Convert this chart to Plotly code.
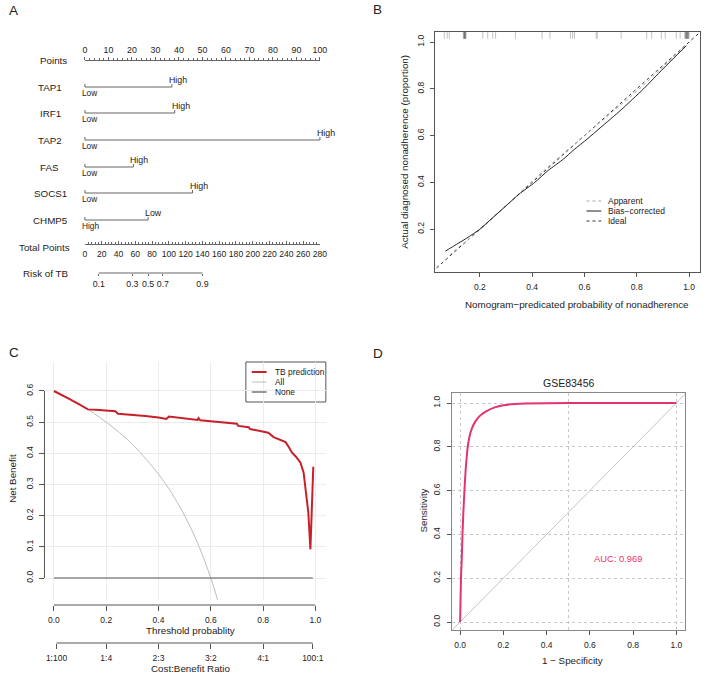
import plotly.graph_objects as go

W, H = 709, 674
FONT = "Liberation Sans, Arial, Helvetica, sans-serif"
TXT = "#222222"
AX = "#555555"


def fx(p):
    return p / W


def fy(p):
    return 1 - p / H


# ---------------- Panel A: nomogram data ----------------
points_ticks = list(range(0, 101, 10))
variables = ["TAP1", "IRF1", "TAP2", "FAS", "SOCS1", "CHMP5"]
variable_points = [37.0, 38.2, 100.0, 20.6, 45.8, 26.9]
label_at_zero = ["Low", "Low", "Low", "Low", "Low", "High"]
label_at_end = ["High", "High", "High", "High", "High", "Low"]
total_points_ticks = list(range(0, 281, 20))
risk_labels = ["0.1", "0.3", "0.5", "0.7", "0.9"]
risk_total_points = [16.5, 56.5, 75.3, 92.9, 140.0]

# ---------------- Panel B: calibration data ----------------
bias_pred = [0.068, 0.1, 0.15, 0.2, 0.25, 0.3, 0.35, 0.41, 0.46, 0.52, 0.56, 0.61, 0.66, 0.74, 0.826, 0.9, 0.99]
bias_obs = [0.106, 0.128, 0.162, 0.2, 0.25, 0.3, 0.35, 0.40, 0.45, 0.50, 0.54, 0.585, 0.633, 0.71, 0.80, 0.885, 0.985]
apparent_pred = [0.068, 0.1, 0.2, 0.3, 0.4, 0.5, 0.6, 0.7, 0.8, 0.9, 0.99]
apparent_obs = [0.07, 0.105, 0.197, 0.3, 0.405, 0.505, 0.6, 0.695, 0.79, 0.893, 0.99]
ideal_line = [0.0, 1.05]
rug_pred = [0.064, 0.075, 0.083, 0.137, 0.139, 0.14, 0.141, 0.142, 0.143, 0.144, 0.145, 0.147,
            0.211, 0.23, 0.249, 0.26, 0.336, 0.438, 0.468, 0.547, 0.555, 0.562, 0.645, 0.649,
            0.74, 0.838, 0.857, 0.894, 0.909, 0.951, 0.966, 0.984, 0.986, 0.988, 0.989, 0.99,
            0.991, 0.992, 0.994, 0.995, 0.996, 0.998, 1.0]
b_ticks = [0.2, 0.4, 0.6, 0.8, 1.0]

# ---------------- Panel C: decision curve data ----------------
tb_threshold = [0.0, 0.03, 0.06, 0.09, 0.13, 0.16, 0.2, 0.235, 0.245, 0.3, 0.35, 0.4, 0.43, 0.44,
                0.45, 0.5, 0.55, 0.553, 0.56, 0.6, 0.65, 0.7, 0.705, 0.745, 0.75, 0.8, 0.82, 0.84,
                0.86, 0.886, 0.9, 0.91, 0.925, 0.943, 0.955, 0.965, 0.973, 0.981, 0.992]
tb_net_benefit = [0.60, 0.588, 0.574, 0.560, 0.541, 0.540, 0.537, 0.535, 0.527, 0.524, 0.520, 0.515,
                  0.510, 0.518, 0.517, 0.513, 0.507, 0.513, 0.506, 0.503, 0.499, 0.495, 0.488, 0.484,
                  0.478, 0.471, 0.466, 0.452, 0.446, 0.436, 0.418, 0.403, 0.39, 0.37, 0.338, 0.27,
                  0.21, 0.092, 0.357]
all_threshold = [0.0, 0.1, 0.2, 0.3, 0.4, 0.45, 0.5, 0.55, 0.6, 0.63]
all_net_benefit = [0.6, 0.556, 0.5, 0.429, 0.333, 0.273, 0.2, 0.111, 0.0, -0.081]
none_threshold = [0.0, 0.99]
none_net_benefit = [0.0, 0.0]
c_x_ticks = [0.0, 0.2, 0.4, 0.6, 0.8, 1.0]
c_y_ticks = [0.0, 0.1, 0.2, 0.3, 0.4, 0.5, 0.6]
cost_benefit_pos = [0.01, 0.2, 0.4, 0.6, 0.8, 0.99]
cost_benefit_labels = ["1:100", "1:4", "2:3", "3:2", "4:1", "100:1"]

# ---------------- Panel D: ROC data ----------------
roc_fpr = [0.0, 0.002, 0.004, 0.008, 0.011, 0.015, 0.020, 0.026, 0.033, 0.042, 0.055, 0.070,
           0.09, 0.12, 0.16, 0.2, 0.3, 0.5, 1.0]
roc_tpr = [0.0, 0.1, 0.2, 0.3, 0.4, 0.5, 0.6, 0.7, 0.78, 0.84, 0.885, 0.915, 0.94, 0.962,
           0.98, 0.99, 0.998, 1.0, 1.0]
diag_line = [-0.1, 1.1]
d_ticks = [0.0, 0.2, 0.4, 0.6, 0.8, 1.0]
auc_text = "AUC: 0.969"

RED = "#C8202A"
ROC_COL = "#E5336C"

fig = go.Figure()

# ---- Panel A traces ----
row_points = 60
row_vars = [87, 113, 140, 167, 193, 220]
row_total = 244
row_risk = 273

fig.add_trace(go.Scatter(x=[0, 100], y=[row_points, row_points], xaxis="x", yaxis="y",
                         mode="lines", line=dict(width=0), hoverinfo="skip", showlegend=False))
for v, r in zip(variable_points, row_vars):
    fig.add_trace(go.Scatter(x=[0, 0, v, v], y=[r - 3, r, r, r - 3], xaxis="x8", yaxis="y",
                             mode="lines", line=dict(color="#666666", width=1),
                             hoverinfo="skip", showlegend=False))
fig.add_trace(go.Scatter(x=[0, 280], y=[row_total, row_total], xaxis="x6", yaxis="y",
                         mode="lines", line=dict(width=0), hoverinfo="skip", showlegend=False))
fig.add_trace(go.Scatter(x=[risk_total_points[0], risk_total_points[-1]], y=[row_risk, row_risk],
                         xaxis="x7", yaxis="y", mode="lines", line=dict(color="#666666", width=1),
                         hoverinfo="skip", showlegend=False))

# ---- Panel B traces ----
fig.add_trace(go.Scatter(x=ideal_line, y=ideal_line, xaxis="x2", yaxis="y2", mode="lines",
                         line=dict(color="#333333", width=1, dash="3px,3px"), showlegend=False))
fig.add_trace(go.Scatter(x=apparent_pred, y=apparent_obs, xaxis="x2", yaxis="y2", mode="lines",
                         line=dict(color="#a8a8a8", width=1, dash="dot", shape="spline"), showlegend=False))
fig.add_trace(go.Scatter(x=bias_pred, y=bias_obs, xaxis="x2", yaxis="y2", mode="lines",
                         line=dict(color="#222222", width=1, shape="spline", smoothing=0.6), showlegend=False))
fig.add_trace(go.Scatter(x=rug_pred, y=[1.032] * len(rug_pred), xaxis="x2", yaxis="y2", mode="markers",
                         marker=dict(symbol="line-ns", size=6,
                                     line=dict(width=1, color="rgba(80,80,80,0.35)")),
                         showlegend=False, hoverinfo="skip"))

# ---- Panel C traces ----
fig.add_trace(go.Scatter(x=all_threshold, y=all_net_benefit, xaxis="x3", yaxis="y3", mode="lines",
                         line=dict(color="#bdbdbd", width=1, shape="spline"), showlegend=False))
fig.add_trace(go.Scatter(x=none_threshold, y=none_net_benefit, xaxis="x3", yaxis="y3", mode="lines",
                         line=dict(color="#555555", width=1.2), showlegend=False))
fig.add_trace(go.Scatter(x=tb_threshold, y=tb_net_benefit, xaxis="x3", yaxis="y3", mode="lines",
                         line=dict(color=RED, width=2), showlegend=False))
fig.add_trace(go.Scatter(x=[0.01, 0.99], y=[0, 0], xaxis="x5", yaxis="y3", mode="lines",
                         line=dict(width=0), hoverinfo="skip", showlegend=False))

# ---- Panel D traces ----
fig.add_trace(go.Scatter(x=diag_line, y=diag_line, xaxis="x4", yaxis="y4", mode="lines",
                         line=dict(color="#c4c4c4", width=1), showlegend=False))
fig.add_trace(go.Scatter(x=roc_fpr, y=roc_tpr, xaxis="x4", yaxis="y4", mode="lines",
                         line=dict(color=ROC_COL, width=2, shape="spline", smoothing=0.3),
                         showlegend=False))

TICK_SIZE = 8.5
tickfont = dict(family=FONT, size=TICK_SIZE, color=TXT)

# nomogram x extent
nx0, nx1 = 84, 322
ppp = (nx1 - nx0) / 100.0

layout = dict(
    width=W, height=H, margin=dict(l=0, r=0, t=0, b=0),
    paper_bgcolor="white", plot_bgcolor="rgba(0,0,0,0)",
    font=dict(family=FONT, color=TXT),
    showlegend=False,
    # nomogram Points axis
    xaxis=dict(domain=[fx(nx0), fx(nx1)], range=[0, 100], anchor="free", position=fy(row_points),
               side="top", tickvals=points_ticks, ticks="outside", ticklen=3, tickcolor="#666",
               minor=dict(dtick=2, ticks="outside", ticklen=2, tickcolor="#666"),
               showline=True, linecolor="#666", linewidth=1, showgrid=False, zeroline=False,
               tickangle=0, tickfont=dict(family=FONT, size=8.8, color=TXT), fixedrange=True),
    yaxis=dict(domain=[0, 1], range=[H, 0], visible=False, fixedrange=True),
    xaxis8=dict(domain=[fx(nx0 - ppp), fx(nx1 + ppp)], range=[-1, 101], anchor="y", visible=False),
    xaxis6=dict(overlaying="x", range=[0, 280], anchor="free", position=fy(row_total), side="bottom",
                tickvals=total_points_ticks, ticks="inside", ticklen=3, tickcolor="#666",
                minor=dict(dtick=4, ticks="inside", ticklen=2, tickcolor="#666"),
                showline=True, linecolor="#666", linewidth=1, showgrid=False, zeroline=False,
                tickangle=0, ticklabelstandoff=2,
                tickfont=dict(family=FONT, size=8.6, color=TXT)),
    xaxis7=dict(overlaying="x", range=[0, 280], anchor="free", position=fy(row_risk), side="bottom",
                tickvals=risk_total_points, ticktext=risk_labels, ticks="outside", ticklen=2,
                tickcolor="#666", showline=False, showgrid=False, zeroline=False, tickangle=0,
                tickfont=dict(family=FONT, size=8.8, color=TXT)),
    # Panel B
    xaxis2=dict(domain=[fx(439), fx(707)], range=[0.03, 1.042], anchor="y2",
                tickvals=b_ticks, tickformat=".1f", ticks="outside", ticklen=4, tickcolor=AX,
                showline=True, mirror=True, linecolor=AX, linewidth=1, showgrid=False, zeroline=False,
                tickangle=0, ticklabelstandoff=3, tickfont=tickfont),
    yaxis2=dict(domain=[fy(272), fy(32)], range=[0.017, 1.043], anchor="x2",
                tickvals=b_ticks, tickformat=".1f", ticks="outside", ticklen=4, tickcolor=AX,
                tickangle=-90, showline=True, mirror=True, linecolor=AX, linewidth=1,
                showgrid=False, zeroline=False, ticklabelstandoff=3, tickfont=tickfont),
    # Panel C
    xaxis3=dict(domain=[fx(42), fx(328)], range=[-0.04, 1.04], anchor="free", position=fy(605),
                tickvals=c_x_ticks, tickformat=".1f", ticks="outside", ticklen=5, tickcolor=AX,
                showline=False, showgrid=True, gridcolor="#ececec", gridwidth=1, zeroline=False,
                tickangle=0, ticklabelstandoff=2, tickfont=tickfont),
    yaxis3=dict(domain=[fy(600), fy(362)], range=[-0.0706, 0.693], anchor="free", position=fx(43),
                tickvals=c_y_ticks, tickformat=".1f", ticks="outside", ticklen=5, tickcolor=AX,
                tickangle=-90, showline=False, showgrid=True, gridcolor="#ececec", gridwidth=1,
                zeroline=False, ticklabelstandoff=3, tickfont=tickfont),
    xaxis5=dict(overlaying="x3", range=[-0.04, 1.04], anchor="free", position=fy(643), side="bottom",
                tickvals=cost_benefit_pos, ticktext=cost_benefit_labels, ticks="outside", ticklen=5,
                tickcolor=AX, showline=False, showgrid=False, zeroline=False, tickangle=0,
                ticklabelstandoff=2, tickfont=tickfont),
    # Panel D
    xaxis4=dict(domain=[fx(456), fx(692)], range=[-0.0365, 1.041], anchor="y4",
                tickvals=d_ticks, tickformat=".1f", ticks="outside", ticklen=4, tickcolor=AX,
                showline=True, mirror=True, linecolor="#888", linewidth=1.2, showgrid=False,
                zeroline=False, tickangle=0, ticklabelstandoff=3, tickfont=tickfont,
                minor=dict(tickvals=[0.0, 0.5, 1.0], ticks="", showgrid=True, gridcolor="#c8c8c8",
                           griddash="dot", gridwidth=1)),
    yaxis4=dict(domain=[fy(630), fy(393)], range=[-0.0365, 1.0457], anchor="x4",
                tickvals=d_ticks, tickformat=".1f", ticks="outside", ticklen=4, tickcolor=AX,
                tickangle=-90, showline=True, mirror=True, linecolor="#888", linewidth=1.2,
                showgrid=True, gridcolor="#c8c8c8", griddash="dot", gridwidth=1, zeroline=False,
                ticklabelstandoff=4, tickfont=tickfont),
)

annotations = []
shapes = []


def ann(text, x, y, size=9.7, xanchor="center", yanchor="middle", xref="paper", yref="paper",
        color=TXT, angle=0, xshift=0):
    annotations.append(dict(text=text, x=x, y=y, xref=xref, yref=yref, showarrow=False,
                            xanchor=xanchor, yanchor=yanchor, textangle=angle, xshift=xshift,
                            borderpad=0,
                            font=dict(family=FONT, size=size, color=color)))


TITLE = 9.8

# panel letters
ann("A", fx(12), fy(11), size=13.5)
ann("B", fx(380), fy(10), size=13.5)
ann("C", fx(12), fy(352), size=13.5)
ann("D", fx(381), fy(353), size=13.5)

# nomogram row labels
row_labels = ["Points"] + variables + ["Total Points", "Risk of TB"]
row_label_y = [row_points] + row_vars + [row_total + 3, row_risk]
row_label_cx = [52, 49, 49, 49, 48, 49, 49, 43, 44]
for t, yy, cx in zip(row_labels, row_label_y, row_label_cx):
    ann(t, fx(cx), yy, size=TITLE, yref="y")

for v, r, lo, hi in zip(variable_points, row_vars, label_at_zero, label_at_end):
    ann(lo, 0, r + 6, size=8.3, xanchor="left", xref="x8", yref="y", xshift=-4)
    ann(hi, v, r - 7, size=8.8, xanchor="left", xref="x8", yref="y", xshift=-4)

# Panel B titles & legend
ann("Actual diagnosed nonadherence (proportion)", fx(407), fy(152), size=TITLE, angle=-90)
ann("Nomogram\u2212predicated probability of nonadherence", fx(582), fy(304), size=TITLE)
b_legend = [("Apparent", dict(color="#a8a8a8", width=1, dash="dot"), 201),
            ("Bias\u2212corrected", dict(color="#222", width=1), 211),
            ("Ideal", dict(color="#333", width=1, dash="3px,3px"), 221)]
for name, ln, yy in b_legend:
    shapes.append(dict(type="line", xref="paper", yref="paper", x0=fx(592), x1=fx(607),
                       y0=fy(yy), y1=fy(yy), line=ln))
    ann(name, fx(613), fy(yy), size=8.5, xanchor="left")

# Panel C axis lines, titles, legend
shapes.append(dict(type="line", xref="x3", yref="paper", x0=0, x1=1, y0=fy(605), y1=fy(605),
                   line=dict(color=AX, width=1)))
shapes.append(dict(type="line", xref="paper", yref="y3", x0=fx(43), x1=fx(43), y0=0, y1=0.6,
                   line=dict(color=AX, width=1)))
shapes.append(dict(type="line", xref="x3", yref="paper", x0=0.01, x1=0.99, y0=fy(643), y1=fy(643),
                   line=dict(color=AX, width=1)))
ann("Threshold probablity", fx(191), fy(630), size=TITLE)
ann("Cost:Benefit Ratio", fx(191), fy(668), size=TITLE)
ann("Net Benefit", fx(11), fy(478), size=TITLE, angle=-90)
shapes.append(dict(type="rect", xref="paper", yref="paper", x0=fx(247), x1=fx(328),
                   y0=fy(402), y1=fy(362), line=dict(color="#555", width=1), fillcolor="white",
                   layer="below"))
c_legend = [("TB prediction", dict(color=RED, width=2), 372),
            ("All", dict(color="#bdbdbd", width=1), 382),
            ("None", dict(color="#555", width=1.2), 392)]
for name, ln, yy in c_legend:
    shapes.append(dict(type="line", xref="paper", yref="paper", x0=fx(253), x1=fx(268),
                       y0=fy(yy), y1=fy(yy), line=ln))
    ann(name, fx(276), fy(yy), size=8.4, xanchor="left")

# Panel D titles
ann("GSE83456", fx(574), fy(383), size=10.5)
ann("1 \u2212 Specificity", fx(578), fy(660), size=TITLE)
ann("Sensitivity", fx(426), fy(511), size=TITLE, angle=-90)
ann(auc_text, 0.73, 0.29, size=9.4, xref="x4", yref="y4", color=ROC_COL)

layout["annotations"] = annotations
layout["shapes"] = shapes
fig.update_layout(**layout)
fig.write_html("out.html")
